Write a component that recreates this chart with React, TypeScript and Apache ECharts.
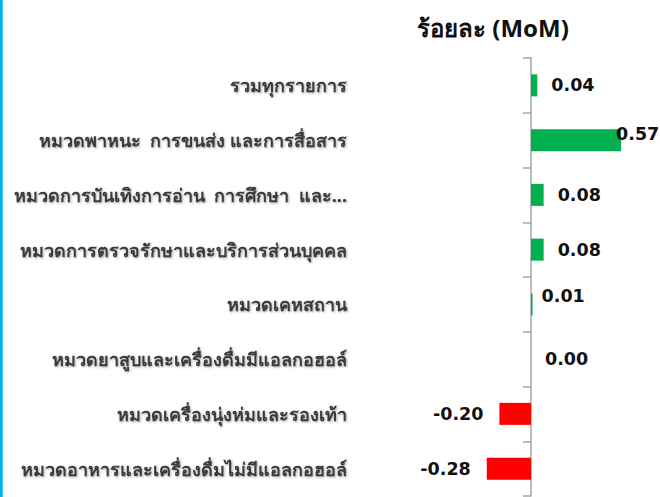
import React, { useEffect, useRef } from "react";
import * as echarts from "echarts";

const categories = [
  "รวมทุกรายการ",
  "หมวดพาหนะ  การขนส่ง และการสื่อสาร",
  "หมวดการบันเทิงการอ่าน  การศึกษา  และ...",
  "หมวดการตรวจรักษาและบริการส่วนบุคคล",
  "หมวดเคหสถาน",
  "หมวดยาสูบและเครื่องดื่มมีแอลกอฮอล์",
  "หมวดเครื่องนุ่งห่มและรองเท้า",
  "หมวดอาหารและเครื่องดื่มไม่มีแอลกอฮอล์",
];
const values = [0.04, 0.57, 0.08, 0.08, 0.01, 0.0, -0.2, -0.28];
const titleText = "ร้อยละ (MoM)";

export default function App() {
  const ref = useRef<HTMLDivElement>(null);
  useEffect(() => {
    if (!ref.current) return;
    const chart = echarts.init(ref.current, undefined, { renderer: "svg" });
    const data = values.map((v, i) => {
      const item: any = {
        value: v,
        itemStyle: { color: v < 0 ? "#FF0000" : "#00B050" },
        label: {
          position: v < 0 ? "left" : "right",
          distance: v < 0 ? 16 : 14,
        },
      };
      if (i === 1) item.label = { position: "right", distance: -5, offset: [0, -6] };
      if (i === 4) item.label = { position: "right", distance: 9, offset: [0, -8] };
      return item;
    });
    chart.setOption({
      animation: false,
      backgroundColor: "#ffffff",
      title: {
        text: titleText,
        left: 412,
        top: 10,
        textStyle: {
          fontFamily: "Noto Sans, sans-serif",
          fontWeight: "bold",
          fontSize: 24,
          color: "#111111",
        },
      },
      graphic: [
        {
          type: "rect",
          left: 0,
          top: 0,
          shape: { x: 0, y: 0, width: 2.7, height: 497 },
          style: { fill: "#00B0F0" },
        },
      ],
      grid: {
        left: 373,
        right: 2.6,
        top: 58,
        bottom: 1,
        containLabel: false,
        outerBoundsMode: "none",
      },
      xAxis: {
        type: "value",
        min: -1,
        max: 0.8,
        show: false,
      },
      yAxis: {
        type: "category",
        data: categories,
        inverse: true,
        axisLine: { onZero: true, lineStyle: { color: "#A6A6A6", width: 1.5 } },
        axisTick: { show: true, length: 8, lineStyle: { color: "#A6A6A6", width: 1.5 } },
        axisLabel: {
          margin: 26,
          fontFamily: "Tahoma, Noto Sans, sans-serif",
          fontSize: 18,
          fontWeight: "bold",
          color: "#3a3a3a",
          textShadowColor: "rgba(0,0,0,0.35)",
          textShadowBlur: 2,
          textShadowOffsetX: 1,
          textShadowOffsetY: 1,
        },
        splitLine: { show: false },
      },
      series: [
        {
          type: "bar",
          data,
          barWidth: 22,
          label: {
            show: true,
            formatter: (p: any) => Number(p.value).toFixed(2),
            fontFamily: "DejaVu Sans, sans-serif",
            fontSize: 17.5,
            fontWeight: "bold",
            color: "#111111",
          },
        },
      ],
    });
    return () => chart.dispose();
  }, []);
  return (
    <div
      ref={ref}
      style={{ position: "fixed", left: 0, top: 0, width: 660, height: 497 }}
    />
  );
}
